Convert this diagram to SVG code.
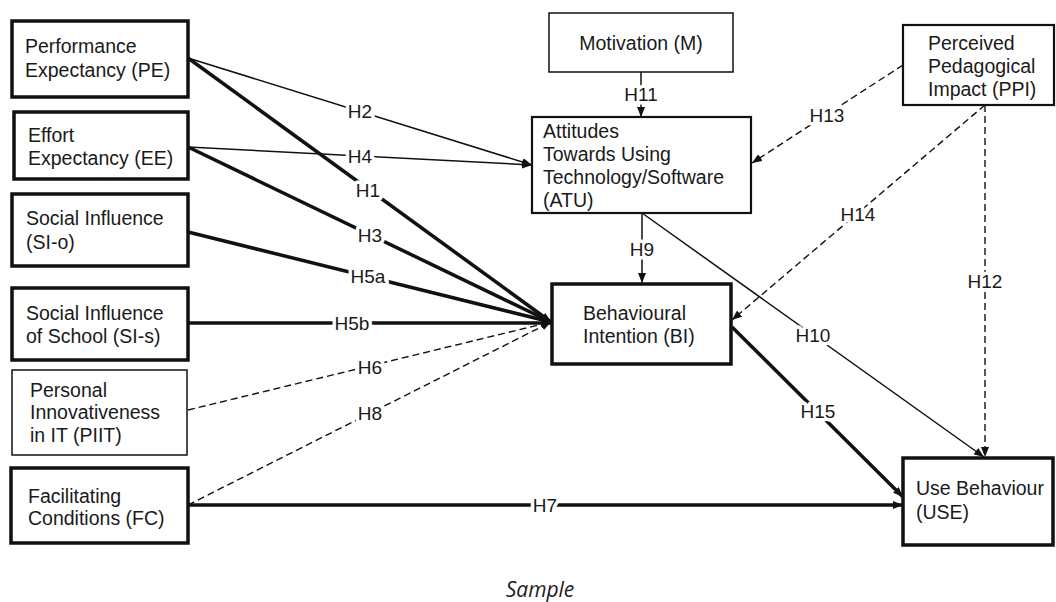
<svg xmlns="http://www.w3.org/2000/svg" width="1056" height="602" viewBox="0 0 1056 602">
  <style>
    .box { fill: #fff; stroke: #111; }
    .heavy { stroke-width: 3.5; }
    .mid { stroke-width: 2.2; }
    .light { stroke-width: 1.5; }
    .t { font-family: "Liberation Sans", Arial, sans-serif; font-size: 19.5px; fill: #1a1a1a; }
    .lbl { font-family: "Liberation Sans", Arial, sans-serif; font-size: 19px; fill: #1a1a1a; text-anchor: middle; stroke: #fff; stroke-width: 7; paint-order: stroke; stroke-linejoin: round; }
    .c { fill: none; stroke: #111; }
    .thick { stroke-width: 3.5; }
    .thin { stroke-width: 1.5; }
    .dash { stroke-width: 1.4; stroke-dasharray: 7 4; }
    .cap { font-family: "Open Sans", "Liberation Sans", sans-serif; font-style: italic; font-size: 21px; fill: #222; text-anchor: middle; }
  </style>
  <defs>
    <marker id="arr" viewBox="0 0 10 8" refX="10" refY="4" markerWidth="10" markerHeight="8" markerUnits="userSpaceOnUse" orient="auto">
      <path d="M0,0 L10,4 L0,8 z" fill="#111"/>
    </marker>
  </defs>

  <rect width="1056" height="602" fill="#fff"/>

  <!-- connectors -->
  <g id="connectors">
    <line id="h2" class="c thin" x1="188" y1="58" x2="532" y2="165" marker-end="url(#arr)"/>
    <line id="h4" class="c thin" x1="188" y1="147" x2="532" y2="165" marker-end="url(#arr)"/>
    <line id="h1" class="c thick" x1="188" y1="58" x2="551" y2="322" marker-end="url(#arr)"/>
    <line id="h3" class="c thick" x1="188" y1="147" x2="551" y2="322" marker-end="url(#arr)"/>
    <line id="h5a" class="c thick" x1="188" y1="232" x2="551" y2="322" marker-end="url(#arr)"/>
    <line id="h5b" class="c thick" x1="188" y1="323" x2="551" y2="323" marker-end="url(#arr)"/>
    <line id="h6" class="c dash" x1="188" y1="410" x2="551" y2="322" marker-end="url(#arr)"/>
    <line id="h8" class="c dash" x1="188" y1="505" x2="551" y2="322" marker-end="url(#arr)"/>
    <line id="h7" class="c thick" x1="188" y1="505" x2="903" y2="505" marker-end="url(#arr)"/>
    <line id="h11" class="c thin" x1="641" y1="72" x2="641" y2="117" marker-end="url(#arr)"/>
    <line id="h9" class="c thin" x1="642" y1="213" x2="642" y2="283" marker-end="url(#arr)"/>
    <line id="h10" class="c thin" x1="642" y1="213" x2="984" y2="457" marker-end="url(#arr)"/>
    <line id="h13" class="c dash" x1="903" y1="65" x2="752" y2="163" marker-end="url(#arr)"/>
    <line id="h14" class="c dash" x1="985" y1="105" x2="732" y2="320" marker-end="url(#arr)"/>
    <line id="h12" class="c dash" x1="985" y1="105" x2="985" y2="457" marker-end="url(#arr)"/>
    <line id="h15" class="c thick" x1="732" y1="327" x2="903" y2="497" marker-end="url(#arr)"/>

    <text class="lbl" x="360" y="118">H2</text>
    <text class="lbl" x="360" y="163">H4</text>
    <text class="lbl" x="368" y="197">H1</text>
    <text class="lbl" x="370" y="242">H3</text>
    <text class="lbl" x="368" y="283">H5a</text>
    <text class="lbl" x="352" y="330">H5b</text>
    <text class="lbl" x="370" y="374">H6</text>
    <text class="lbl" x="370" y="420">H8</text>
    <text class="lbl" x="545" y="512">H7</text>
    <text class="lbl" x="641" y="101">H11</text>
    <text class="lbl" x="642" y="256">H9</text>
    <text class="lbl" x="813" y="342">H10</text>
    <text class="lbl" x="827" y="122">H13</text>
    <text class="lbl" x="858" y="221">H14</text>
    <text class="lbl" x="985" y="288">H12</text>
    <text class="lbl" x="818" y="418">H15</text>
  </g>

  <!-- constructs -->
  <g id="pe">
    <rect class="box heavy" x="12" y="21" width="176" height="76"/>
    <text class="t" x="25" y="53">Performance</text>
    <text class="t" x="25" y="77">Expectancy (PE)</text>
  </g>
  <g id="ee">
    <rect class="box heavy" x="14" y="112" width="174" height="67"/>
    <text class="t" x="28" y="142">Effort</text>
    <text class="t" x="28" y="165">Expectancy (EE)</text>
  </g>
  <g id="si-o">
    <rect class="box heavy" x="12" y="194" width="176" height="72"/>
    <text class="t" x="26" y="225">Social Influence</text>
    <text class="t" x="26" y="249">(SI-o)</text>
  </g>
  <g id="si-s">
    <rect class="box heavy" x="12" y="288" width="176" height="72"/>
    <text class="t" x="26" y="320">Social Influence</text>
    <text class="t" x="26" y="343">of School (SI-s)</text>
  </g>
  <g id="piit">
    <rect class="box light" x="12" y="370" width="175" height="85"/>
    <text class="t" x="30" y="397">Personal</text>
    <text class="t" x="30" y="419">Innovativeness</text>
    <text class="t" x="30" y="442">in IT (PIIT)</text>
  </g>
  <g id="fc">
    <rect class="box heavy" x="11" y="468" width="177" height="75"/>
    <text class="t" x="28" y="503">Facilitating</text>
    <text class="t" x="28" y="525">Conditions (FC)</text>
  </g>
  <g id="m">
    <rect class="box light" x="549" y="13" width="184" height="59"/>
    <text class="t" x="641" y="50" text-anchor="middle">Motivation (M)</text>
  </g>
  <g id="atu">
    <rect class="box mid" x="532" y="117" width="219" height="96"/>
    <text class="t" x="543" y="138">Attitudes</text>
    <text class="t" x="543" y="161">Towards Using</text>
    <text class="t" x="543" y="184">Technology/Software</text>
    <text class="t" x="543" y="207">(ATU)</text>
  </g>
  <g id="ppi">
    <rect class="box mid" x="903" y="25" width="151" height="80"/>
    <text class="t" x="928" y="50">Perceived</text>
    <text class="t" x="928" y="73">Pedagogical</text>
    <text class="t" x="928" y="96">Impact (PPI)</text>
  </g>
  <g id="bi">
    <rect class="box heavy" x="552" y="284" width="179" height="80"/>
    <text class="t" x="583" y="320">Behavioural</text>
    <text class="t" x="583" y="343">Intention (BI)</text>
  </g>
  <g id="use">
    <rect class="box heavy" x="903" y="458" width="150" height="87"/>
    <text class="t" x="916" y="495">Use Behaviour</text>
    <text class="t" x="916" y="519">(USE)</text>
  </g>

  <text class="cap" x="540" y="597">Sample</text>
</svg>
